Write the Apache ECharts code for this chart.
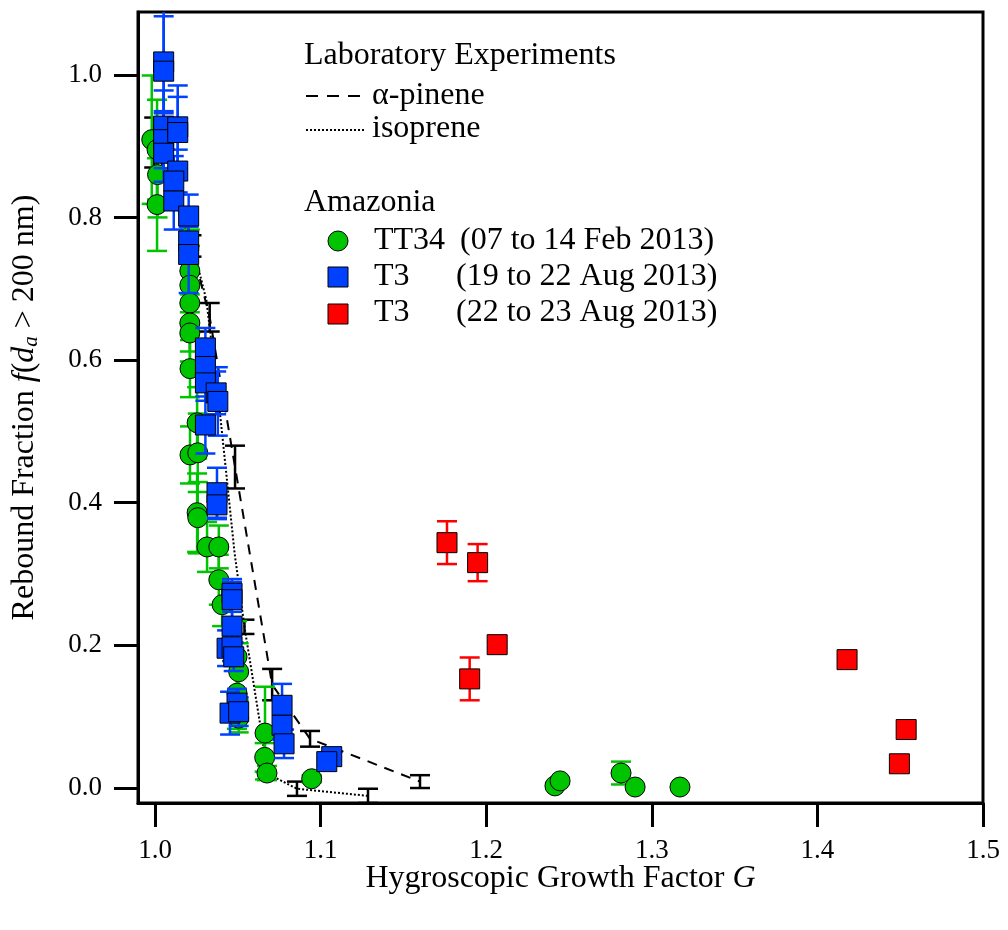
<!DOCTYPE html>
<html lang="en">
<head>
<meta charset="UTF-8">
<title>Rebound fraction vs hygroscopic growth factor</title>
<script src="https://cdn.jsdelivr.net/npm/echarts@6/dist/echarts.min.js"></script>
<style>
  html, body { margin: 0; padding: 0; background: #fff; }
  #chart { width: 1008px; height: 930px; }
</style>
</head>
<body>
<div id="chart"></div>
<script>
// values: x = growth factor G, y = rebound fraction, e = +/- error
const tt34X = [0.998, 1.0012, 1.0015, 1.0012, 1.021, 1.021, 1.021, 1.021, 1.021, 1.0211, 1.0254, 1.0211, 1.0258, 1.0254, 1.0258, 1.0314, 1.0385, 1.0385, 1.0405, 1.0495, 1.0505, 1.0495, 1.0505, 1.0664, 1.0662, 1.0676, 1.0946, 1.2415, 1.2446, 1.2814, 1.2899, 1.317];
const tt34Y = [0.909, 0.895, 0.86, 0.818, 0.725, 0.705, 0.680, 0.652, 0.638, 0.588, 0.512, 0.467, 0.470, 0.386, 0.379, 0.338, 0.338, 0.292, 0.257, 0.184, 0.163, 0.133, 0.098, 0.077, 0.043, 0.021, 0.013, 0.003, 0.010, 0.021, 0.0014, 0.0014];
const tt34E = [0.09, 0.07, 0.06, 0.065, 0.058, 0.055, 0.045, 0.04, 0.04, 0.04, 0.05, 0.04, 0.055, 0.055, 0.05, 0.035, 0.03, 0.035, 0.03, 0.05, 0.04, 0.05, 0.02, 0.065, 0.02, 0.01, 0.005, 0.004, 0.004, 0.016, 0, 0];

const augAX = [1.0052, 1.0052, 1.0052, 1.0052, 1.0052, 1.0137, 1.0137, 1.0137, 1.0113, 1.0113, 1.0203, 1.0203, 1.0203, 1.0304, 1.0304, 1.0304, 1.0369, 1.0379, 1.0304, 1.0374, 1.0374, 1.0465, 1.0465, 1.0465, 1.0435, 1.0465, 1.0475, 1.0495, 1.0453, 1.0505, 1.0767, 1.0767, 1.0779, 1.1067, 1.1037];
const augAY = [1.018, 1.005, 0.928, 0.909, 0.89, 0.927, 0.919, 0.865, 0.851, 0.823, 0.802, 0.767, 0.748, 0.617, 0.591, 0.568, 0.554, 0.542, 0.509, 0.414, 0.397, 0.273, 0.264, 0.227, 0.196, 0.198, 0.184, 0.119, 0.105, 0.107, 0.116, 0.088, 0.062, 0.044, 0.037];
const augAE = [0.072, 0.077, 0.05, 0.04, 0.04, 0.058, 0.05, 0.03, 0.035, 0.04, 0.03, 0.02, 0.054, 0.028, 0.03, 0.025, 0.03, 0.048, 0.04, 0.035, 0.02, 0.02, 0.025, 0.02, 0.025, 0.02, 0.02, 0.02, 0.03, 0.02, 0.03, 0.02, 0.02, 0.005, 0.005];

const augBX = [1.1763, 1.1948, 1.2066, 1.190, 1.4179, 1.4536, 1.4495];
const augBY = [0.344, 0.316, 0.201, 0.153, 0.180, 0.082, 0.034];
const augBE = [0.030, 0.026, 0.004, 0.030, 0, 0, 0];

const pineneX = [0.9995, 1.022, 1.033, 1.0483, 1.0707, 1.0936, 1.16];
const pineneY = [0.905, 0.76, 0.66, 0.45, 0.145, 0.069, 0.009];
const pineneE = [0.035, 0.015, 0.02, 0.03, 0.022, 0.011, 0.009];

const isopreneX = [1.0, 1.012, 1.028, 1.031, 1.039, 1.048, 1.054, 1.0634, 1.068, 1.0857, 1.1286];
const isopreneY = [0.92, 0.85, 0.712, 0.684, 0.53, 0.33, 0.226, 0.09, 0.02, -0.001, -0.011];
const isopreneE = [0, 0, 0, 0, 0, 0, 0.01, 0, 0, 0.01, 0.01];

// axis ranges and tick spacing
const xRange = [0.9897, 1.5];
const yRange = [-0.021, 1.088];
const xTickRange = [1.0, 1.5];
const yTickRange = [0.0, 1.0];
const xStep = 0.1;
const yStep = 0.2;

const GREEN = '#00c400';
const BLUE = '#0040ff';
const RED = '#ff0000';
const FONT = '"Liberation Serif", "DejaVu Serif", serif';

const plot = { left: 138, top: 12, width: 845, height: 791 };

// second grid only carries the tick marks, so the frame ends get no extra ticks
const pxX = plot.width / (xRange[1] - xRange[0]);
const pxY = plot.height / (yRange[1] - yRange[0]);
const tickGrid = {
	left: plot.left + (xTickRange[0] - xRange[0]) * pxX,
	top: plot.top + (yRange[1] - yTickRange[1]) * pxY,
	width: (xTickRange[1] - xTickRange[0]) * pxX,
	height: (yTickRange[1] - yTickRange[0]) * pxY
};
const xOffset = plot.top + plot.height - (tickGrid.top + tickGrid.height);
const yOffset = tickGrid.left - plot.left;

const chart = echarts.init(document.getElementById('chart'));

function points(xs, ys) {
	return xs.map((x, i) => [x, ys[i]]);
}

function errorBars(color, xs, ys, es, z) {
	const data = [];
	xs.forEach((x, i) => {
		if (es[i] > 0) data.push([x, ys[i] - es[i], ys[i] + es[i]]);
	});
	return {
		type: 'custom',
		data: data,
		clip: true,
		z: z,
		silent: true,
		encode: { x: 0, y: [1, 2] },
		renderItem: function (params, api) {
			const lo = api.coord([api.value(0), api.value(1)]);
			const hi = api.coord([api.value(0), api.value(2)]);
			const w = 10;
			const style = { stroke: color, lineWidth: 2.5 };
			return {
				type: 'group',
				children: [
					{ type: 'line', shape: { x1: lo[0], y1: lo[1], x2: hi[0], y2: hi[1] }, style: style },
					{ type: 'line', shape: { x1: lo[0] - w, y1: lo[1], x2: lo[0] + w, y2: lo[1] }, style: style },
					{ type: 'line', shape: { x1: hi[0] - w, y1: hi[1], x2: hi[0] + w, y2: hi[1] }, style: style }
				]
			};
		}
	};
}

function label(text, x, y) {
	return { type: 'text', x: x, y: y, style: { text: text, fontFamily: FONT, fontSize: 32, fill: '#000', verticalAlign: 'middle' } };
}

// legend drawn by hand, it has two headed groups
const legend = [
	label('Laboratory Experiments', 304, 56),
	{ type: 'line', shape: { x1: 306, y1: 96, x2: 362, y2: 96 }, style: { stroke: '#000', lineWidth: 2, lineDash: [12, 9] } },
	label('α-pinene', 372, 96),
	{ type: 'line', shape: { x1: 306, y1: 130, x2: 366, y2: 130 }, style: { stroke: '#000', lineWidth: 2, lineDash: [2, 2] } },
	label('isoprene', 372, 129),
	label('Amazonia', 304, 203),
	{ type: 'circle', shape: { cx: 338, cy: 241, r: 10 }, style: { fill: GREEN, stroke: '#000', lineWidth: 1 } },
	label('TT34', 374, 241),
	label('(07 to 14 Feb 2013)', 460, 241),
	{ type: 'rect', shape: { x: 328, y: 267, width: 20, height: 20 }, style: { fill: BLUE, stroke: '#000', lineWidth: 1 } },
	label('T3', 374, 277),
	label('(19 to 22 Aug 2013)', 456, 277),
	{ type: 'rect', shape: { x: 328, y: 304, width: 20, height: 20 }, style: { fill: RED, stroke: '#000', lineWidth: 1 } },
	label('T3', 374, 313),
	label('(22 to 23 Aug 2013)', 456, 313)
];

const lineStyle = { color: '#000', width: 3 };

const frameAxis = {
	type: 'value',
	gridIndex: 0,
	splitLine: { show: false },
	axisLine: { show: true, onZero: false, lineStyle: lineStyle },
	axisTick: { show: false },
	axisLabel: { show: false },
	nameLocation: 'middle'
};

// its line lies exactly on the frame line
const tickAxis = {
	type: 'value',
	gridIndex: 1,
	splitLine: { show: false },
	axisLine: { show: true, onZero: false, lineStyle: lineStyle },
	axisTick: { show: true, inside: false, length: 24, lineStyle: lineStyle },
	silent: true
};

const option = {
	animation: false,
	backgroundColor: '#fff',
	grid: [
		Object.assign({ show: true, borderColor: '#000', borderWidth: 3 }, plot),
		Object.assign({ show: false }, tickGrid)
	],
	xAxis: [
		Object.assign({}, frameAxis, {
			min: xRange[0],
			max: xRange[1],
			name: 'Hygroscopic Growth Factor {i|G}',
			nameGap: 60,
			nameTextStyle: { fontFamily: FONT, fontSize: 32, color: '#000', rich: { i: { fontFamily: FONT, fontSize: 32, fontStyle: 'italic', color: '#000' } } }
		}),
		Object.assign({}, tickAxis, {
			min: xTickRange[0],
			max: xTickRange[1],
			interval: xStep,
			offset: xOffset,
			axisLabel: { formatter: v => v.toFixed(1), fontFamily: FONT, fontSize: 27, color: '#000', margin: 34 }
		})
	],
	yAxis: [
		Object.assign({}, frameAxis, {
			min: yRange[0],
			max: yRange[1],
			name: 'Rebound Fraction {i|f}({i|d}{s|a} > 200 nm)',
			nameGap: 96,
			nameTextStyle: {
				fontFamily: FONT, fontSize: 32, color: '#000',
				rich: {
					i: { fontFamily: FONT, fontSize: 32, fontStyle: 'italic', color: '#000' },
					s: { fontFamily: FONT, fontSize: 21, fontStyle: 'italic', color: '#000', verticalAlign: 'bottom', padding: [14, 0, 0, 0] }
				}
			}
		}),
		Object.assign({}, tickAxis, {
			min: yTickRange[0],
			max: yTickRange[1],
			interval: yStep,
			offset: yOffset,
			axisLabel: { formatter: v => v.toFixed(1), fontFamily: FONT, fontSize: 27, color: '#000', margin: 36 }
		})
	],
	graphic: legend,
	series: [
		{
			type: 'line', name: 'α-pinene', data: points(pineneX, pineneY), showSymbol: false, z: 1, silent: true,
			lineStyle: { color: '#000', width: 2, type: [10, 8] }
		},
		{
			type: 'line', name: 'isoprene', data: points(isopreneX, isopreneY), showSymbol: false, z: 1, silent: true,
			lineStyle: { color: '#000', width: 2, type: [2, 2] }
		},
		errorBars('#000', pineneX, pineneY, pineneE, 2),
		errorBars('#000', isopreneX, isopreneY, isopreneE, 2),
		errorBars(GREEN, tt34X, tt34Y, tt34E, 3),
		{
			type: 'scatter', name: 'TT34', data: points(tt34X, tt34Y), symbol: 'circle', symbolSize: 20, z: 4,
			itemStyle: { color: GREEN, borderColor: '#000', borderWidth: 1, opacity: 1 }
		},
		errorBars(BLUE, augAX, augAY, augAE, 5),
		{
			type: 'scatter', name: 'T3 19-22 Aug', data: points(augAX, augAY), symbol: 'rect', symbolSize: 20, z: 6,
			itemStyle: { color: BLUE, borderColor: '#000', borderWidth: 1, opacity: 1 }
		},
		errorBars(RED, augBX, augBY, augBE, 7),
		{
			type: 'scatter', name: 'T3 22-23 Aug', data: points(augBX, augBY), symbol: 'rect', symbolSize: 20, z: 8,
			itemStyle: { color: RED, borderColor: '#000', borderWidth: 1, opacity: 1 }
		}
	]
};

chart.setOption(option);
</script>
</body>
</html>
